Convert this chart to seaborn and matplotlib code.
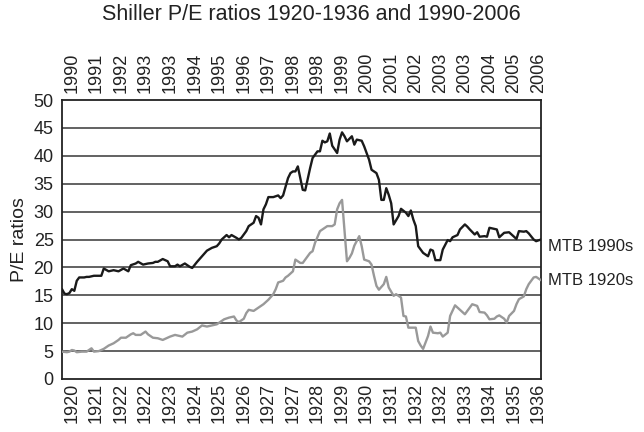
import pandas as pd
import seaborn as sns
import matplotlib.pyplot as plt

# Monthly Shiller P/E, x = months since the start of each window
# 1990s window starts Mar 1990, 1920s window starts Jan 1920
months_1990s = [0, 1, 2, 3, 4, 5, 6, 7, 8, 9, 10, 11, 12, 13, 14, 15, 16, 17, 19, 21,
                23, 25, 27, 28, 30, 31, 33, 35, 37, 38, 39, 41, 43, 44, 46, 47, 48, 50, 52, 53,
                55, 57, 59, 61, 63, 64, 65, 67, 68, 69, 71, 72, 73, 75, 76, 78, 79, 80, 81, 82,
                83, 84, 86, 88, 89, 90, 92, 93, 94, 95, 96, 97, 98, 99, 101, 102, 104, 105, 106, 107,
                108, 109, 110, 112, 113, 114, 115, 116, 118, 119, 120, 122, 123, 125, 126, 128, 129, 130, 131, 132,
                133, 134, 135, 137, 138, 140, 141, 142, 143, 144, 145, 146, 147, 149, 150, 151, 152, 154, 155, 157,
                158, 159, 161, 162, 164, 165, 166, 168, 169, 170, 172, 173, 174, 176, 177, 178, 180, 182, 183, 185,
                186, 188, 189, 190, 192, 193, 195]
pe_1990s = [16.1, 15.3, 15.2, 15.4, 16.1, 15.8, 17.6, 18.2, 18.2, 18.2, 18.3, 18.3, 18.4, 18.5, 18.5, 18.5, 18.5, 19.8, 19.3, 19.5,
            19.3, 19.8, 19.3, 20.4, 20.7, 21.0, 20.5, 20.7, 20.8, 21.0, 21.0, 21.5, 21.1, 20.2, 20.2, 20.5, 20.2, 20.7, 20.1, 19.9,
            21.0, 22.0, 23.0, 23.5, 23.8, 24.3, 25.0, 25.8, 25.4, 25.8, 25.3, 25.0, 25.3, 26.5, 27.4, 28.0, 29.2, 28.9, 27.7, 30.4,
            31.3, 32.6, 32.6, 32.9, 32.4, 32.9, 36.0, 36.9, 37.2, 37.2, 38.1, 36.0, 33.9, 33.8, 37.8, 39.6, 40.8, 40.8, 42.7, 42.4,
            42.6, 44.0, 41.8, 40.5, 42.9, 44.2, 43.5, 42.6, 43.5, 42.0, 42.9, 42.7, 41.7, 39.3, 37.5, 36.9, 35.7, 32.1, 32.1, 34.2,
            33.0, 31.5, 27.7, 29.2, 30.5, 29.8, 29.2, 30.2, 28.6, 27.4, 23.8, 23.2, 22.6, 22.0, 23.2, 23.0, 21.3, 21.3, 23.2, 24.9,
            24.7, 25.4, 25.8, 26.8, 27.7, 27.3, 26.8, 25.9, 26.3, 25.5, 25.6, 25.5, 27.1, 26.9, 26.8, 25.4, 26.2, 26.3, 25.9, 25.1,
            26.5, 26.4, 26.5, 26.1, 25.0, 24.7, 25.0]

months_1920s = [0, 2, 3, 4, 5, 6, 8, 10, 12, 13, 15, 17, 19, 21, 23, 24, 26, 28, 29, 30,
                32, 34, 35, 37, 39, 41, 44, 46, 48, 49, 51, 53, 55, 57, 59, 61, 63, 64, 66, 68,
                70, 71, 72, 74, 75, 76, 78, 80, 82, 84, 86, 87, 88, 90, 91, 92, 94, 95, 97, 98,
                100, 101, 102, 103, 105, 106, 108, 110, 111, 112, 113, 114, 116, 117, 118, 119, 121, 122, 123, 125,
                126, 127, 128, 129, 131, 132, 133, 135, 136, 138, 139, 140, 141, 143, 144, 145, 146, 147, 149, 150,
                151, 153, 154, 155, 157, 158, 160, 161, 162, 164, 165, 166, 167, 169, 170, 172, 173, 174, 176, 177,
                178, 180, 181, 182, 184, 185, 186, 188, 189, 190, 192, 193, 195]
pe_1920s = [4.9, 4.8, 4.9, 5.2, 5.1, 4.8, 4.9, 4.9, 5.5, 4.9, 5.0, 5.4, 6.0, 6.4, 7.0, 7.4, 7.4, 8.0, 8.2, 7.9,
            7.9, 8.5, 8.0, 7.4, 7.3, 7.0, 7.6, 7.9, 7.7, 7.6, 8.3, 8.5, 8.9, 9.6, 9.4, 9.6, 9.8, 10.1, 10.7, 11.0,
            11.2, 10.5, 10.2, 10.8, 11.8, 12.4, 12.2, 12.8, 13.4, 14.2, 15.2, 16.1, 17.3, 17.6, 18.2, 18.5, 19.3, 21.4, 20.8, 20.8,
            22.0, 22.6, 22.9, 24.4, 26.5, 26.8, 27.4, 27.4, 27.7, 30.4, 31.5, 32.1, 21.1, 21.7, 22.5, 23.9, 25.6, 23.8, 21.4, 21.1,
            20.5, 18.5, 16.7, 16.0, 17.0, 18.3, 16.4, 14.9, 15.2, 14.6, 11.3, 11.2, 9.2, 9.2, 9.2, 6.8, 6.0, 5.4, 7.7, 9.4,
            8.3, 8.2, 8.3, 7.6, 8.3, 11.3, 13.2, 12.8, 12.4, 11.6, 12.2, 12.8, 13.4, 13.1, 12.0, 11.9, 11.4, 10.7, 10.8, 11.2,
            11.4, 10.8, 10.1, 11.3, 12.2, 13.4, 14.3, 14.8, 16.1, 17.0, 18.2, 18.3, 17.7]

top_labels = ['1990', '1991', '1992', '1993', '1993', '1994', '1995', '1996', '1997', '1998',
              '1998', '1999', '2000', '2001', '2002', '2003', '2003', '2004', '2005', '2006']
bottom_labels = ['1920', '1921', '1922', '1922', '1923', '1924', '1925', '1926', '1927', '1927',
                 '1928', '1929', '1930', '1931', '1932', '1932', '1933', '1934', '1935', '1936']

df_90 = pd.DataFrame({'month': months_1990s, 'pe': pe_1990s})
df_20 = pd.DataFrame({'month': months_1920s, 'pe': pe_1920s})

sns.set_style('white')
plt.rcParams['font.family'] = ['Liberation Sans', 'DejaVu Sans']
plt.rcParams['text.color'] = '#222222'
plt.rcParams['axes.labelcolor'] = '#222222'
plt.rcParams['xtick.color'] = '#222222'
plt.rcParams['ytick.color'] = '#222222'

fig = plt.figure(figsize=(6.44, 4.32), dpi=100)
ax = fig.add_axes([0.0963, 0.1227, 0.7438, 0.6458])

for y in range(5, 50, 5):
    ax.axhline(y, color='#555555', lw=1.3, zorder=1)

sns.lineplot(data=df_20, x='month', y='pe', color='#999999', lw=1.7, ax=ax, zorder=3)
sns.lineplot(data=df_90, x='month', y='pe', color='#1a1a1a', lw=1.7, ax=ax, zorder=4)

ax.set_xlim(0, 195)
ax.set_ylim(0, 50)
ax.set_yticks(range(0, 55, 5))
ax.tick_params(axis='y', length=0, pad=6, labelsize=13)

tick_pos = list(range(4, 200, 10))
ax.set_xticks(tick_pos)
ax.set_xticklabels(bottom_labels, rotation=90, fontsize=13)
ax.tick_params(axis='x', length=0, pad=3)
ax.set_xlabel('')
ax.set_ylabel('P/E ratios', fontsize=14, labelpad=4)

top = ax.secondary_xaxis('top')
top.set_xticks(tick_pos)
top.set_xticklabels(top_labels, rotation=90, fontsize=13)
top.tick_params(length=0, pad=5)
top.spines['top'].set_visible(False)

for s in ax.spines.values():
    s.set_color('#222222')
    s.set_linewidth(1.3)

ax.text(198, pe_1990s[-1] - 1.2, 'MTB 1990s', fontsize=12, va='center', ha='left')
ax.text(198, pe_1920s[-1], 'MTB 1920s', fontsize=12, va='center', ha='left')

fig.suptitle('Shiller P/E ratios 1920-1936 and 1990-2006', fontsize=15.5, x=0.483, y=0.99)

fig.savefig('out.png', dpi=100)
